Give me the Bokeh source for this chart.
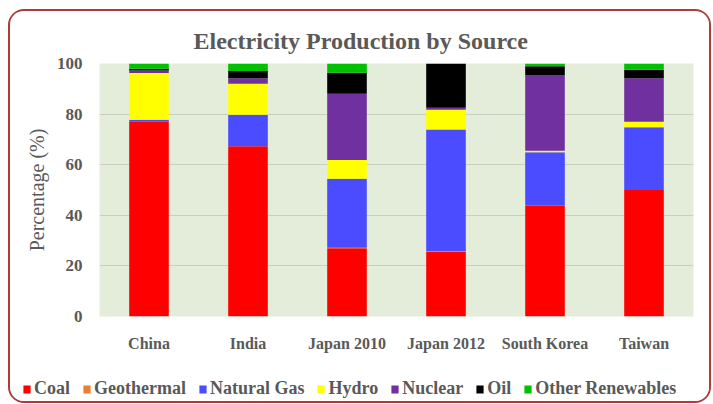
from bokeh.plotting import figure
from bokeh.models import Legend, ColumnDataSource, FactorRange, Range1d
from bokeh.layouts import column
from bokeh.embed import file_html
from bokeh.resources import INLINE

regions = ["China", "India", "Japan 2010", "Japan 2012", "South Korea", "Taiwan"]
sources = ["Coal", "Geothermal", "Natural Gas", "Hydro", "Nuclear", "Oil", "Other Renewables"]
coal = [77.0, 67.3, 27.0, 25.7, 43.9, 50.0]
geothermal = [0.0, 0.0, 0.2, 0.2, 0.0, 0.0]
natural_gas = [0.8, 12.4, 27.2, 48.0, 21.0, 24.8]
hydro = [18.4, 12.3, 7.5, 7.8, 0.6, 2.2]
nuclear = [1.0, 2.2, 26.1, 0.8, 30.0, 17.2]
oil = [0.7, 2.8, 8.3, 17.5, 3.4, 3.3]
other_renewables = [2.1, 3.0, 3.7, 0.0, 1.1, 2.5]
colors = ["#FF0000", "#ED7D31", "#4B4BFF", "#FFFF00", "#7030A0", "#000000", "#00C000"]
yticks = [0, 20, 40, 60, 80, 100]

data = {"region": regions, "Coal": coal, "Geothermal": geothermal, "Natural Gas": natural_gas,
        "Hydro": hydro, "Nuclear": nuclear, "Oil": oil, "Other Renewables": other_renewables}
src = ColumnDataSource(data)

SERIF = "Liberation Serif"

p = figure(x_range=regions, y_range=(0, 100), width=699, height=344,
           output_backend="svg", toolbar_location=None,
           min_border_left=89, min_border_right=16, min_border_top=52, min_border_bottom=39)
p.frame_align = False

p.vbar_stack(sources, x="region", width=0.4, color=colors, source=src, line_color=None)

p.title.text = "Electricity Production by Source"
p.title.align = "left"
p.title.offset = 94
p.title.text_font = SERIF
p.title.text_font_size = "24px"
p.title.text_font_style = "bold"
p.title.text_color = "#595959"
p.title.standoff = 19

p.background_fill_color = "#E3EDDA"
p.border_fill_color = "white"
p.outline_line_color = None
p.xgrid.grid_line_color = None
p.ygrid.grid_line_color = "#C8CFC2"
p.ygrid.grid_line_width = 1

p.yaxis.ticker = yticks
p.yaxis.axis_label = "Percentage (%)"
p.yaxis.axis_label_text_font = SERIF
p.yaxis.axis_label_text_font_style = "normal"
p.yaxis.axis_label_text_font_size = "20px"
p.yaxis.axis_label_text_color = "#595959"
p.yaxis.axis_label_standoff = 6
for ax in (p.xaxis, p.yaxis):
    ax.axis_line_color = None
    ax.major_tick_line_color = None
    ax.minor_tick_line_color = None
    ax.major_label_text_font = SERIF
    ax.major_label_text_font_style = "bold"
    ax.major_label_text_color = "#595959"
p.yaxis.major_label_text_font_size = "17px"
p.xaxis.major_label_text_font_size = "16px"
p.xaxis.major_label_standoff = 12
p.yaxis.major_label_standoff = 11
p.x_range.range_padding = 0

# legend strip: same stacked data, drawn outside this strip's visible range,
# only its legend is visible
lf = figure(width=699, height=46, x_range=FactorRange(*regions), y_range=Range1d(1000, 1001),
            output_backend="svg", toolbar_location=None,
            x_axis_type=None, y_axis_type=None,
            min_border_left=0, min_border_right=0, min_border_top=0, min_border_bottom=0)
lf.frame_align = False
lf.outline_line_color = None
lf.background_fill_color = "white"
lf.border_fill_color = "white"
lf.xgrid.visible = False
lf.ygrid.visible = False
lrs = lf.vbar_stack(sources, x="region", width=0.4, color=colors, source=src, line_color=None)

legend = Legend(items=[(s, [r]) for s, r in zip(sources, lrs)],
                orientation="horizontal", location=(12, 2))
legend.label_text_font = SERIF
legend.label_text_font_size = "18px"
legend.label_text_font_style = "bold"
legend.label_text_color = "#595959"
legend.glyph_width = 9
legend.glyph_height = 10
legend.label_standoff = 3
legend.spacing = 12
legend.padding = 0
legend.margin = 0
legend.border_line_color = None
legend.background_fill_alpha = 0
lf.add_layout(legend, "center")

layout = column(p, lf, spacing=0)
layout.styles = {"margin-left": "8px", "margin-top": "9px", "border": "2px solid #B03A3A",
                 "border-radius": "16px", "overflow": "hidden", "background": "white"}

open("out.html", "w").write(file_html(layout, INLINE))
